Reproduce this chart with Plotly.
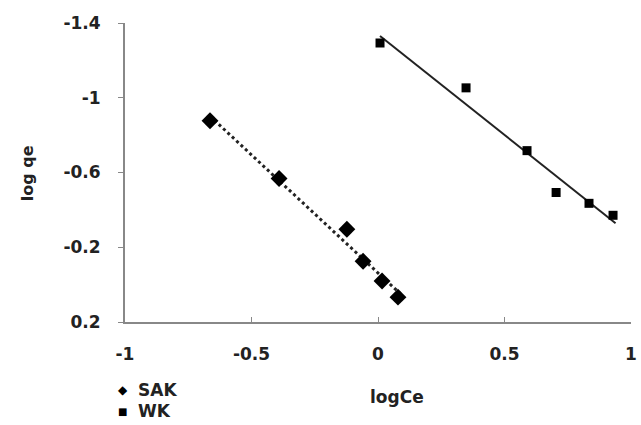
import numpy as np
import plotly.graph_objects as go

# Data
sak_x = [-0.664, -0.391, -0.123, -0.059, 0.016, 0.079]
sak_y = [-0.877, -0.568, -0.296, -0.125, -0.019, 0.067]
wk_x = [0.008, 0.348, 0.589, 0.704, 0.834, 0.929]
wk_y = [-1.293, -1.053, -0.717, -0.493, -0.435, -0.371]

x_ticks = [-1, -0.5, 0, 0.5, 1]
x_tick_labels = ["-1", "-0.5", "0", "0.5", "1"]
y_ticks = [-1.4, -1, -0.6, -0.2, 0.2]
y_tick_labels = ["-1.4", "-1", "-0.6", "-0.2", "0.2"]

series_names = ["SAK", "WK"]
legend_glyphs = ["\u25C6", "\u25A0"]

FONT = "DejaVu Sans, Arial, sans-serif"
TXT = "#222222"

def fit(xs, ys, x0, x1):
    m, b = np.polyfit(xs, ys, 1)
    return [x0, x1], [m * x0 + b, m * x1 + b]

fig = go.Figure()

lx, ly = fit(sak_x, sak_y, min(sak_x), max(sak_x) + 0.01)
fig.add_trace(go.Scatter(x=lx, y=ly, mode="lines", showlegend=False,
                         line=dict(color="#222222", width=3, dash="dot"), hoverinfo="skip"))
lx, ly = fit(wk_x, wk_y, min(wk_x), max(wk_x) + 0.01)
fig.add_trace(go.Scatter(x=lx, y=ly, mode="lines", showlegend=False,
                         line=dict(color="#222222", width=2), hoverinfo="skip"))

fig.add_trace(go.Scatter(x=sak_x, y=sak_y, mode="markers", name=series_names[0],
                         showlegend=False,
                         marker=dict(symbol="diamond", size=13, color="black")))
fig.add_trace(go.Scatter(x=wk_x, y=wk_y, mode="markers", name=series_names[1],
                         showlegend=False,
                         marker=dict(symbol="square", size=9, color="black")))

tickfont = dict(family=FONT, size=17, color=TXT, weight="bold")
annotations = [
    dict(text="logCe", xref="paper", yref="paper", x=0.538, y=-0.251,
         xanchor="center", yanchor="middle", showarrow=False,
         font=dict(family=FONT, size=17, color=TXT, weight="bold")),
    dict(text="log qe", xref="paper", yref="paper", x=-0.192, y=0.497,
         xanchor="center", yanchor="middle", showarrow=False, textangle=-90,
         font=dict(family=FONT, size=16, color=TXT, weight="bold")),
]
# legend rows (below the plot, as in the reference)
leg_y = [-0.227, -0.298]
glyph_sizes = [12, 10]
for name, glyph, gy, gs in zip(series_names, legend_glyphs, leg_y, glyph_sizes):
    annotations.append(dict(text=glyph, xref="paper", yref="paper", x=-0.004, y=gy,
                            xanchor="center", yanchor="middle", showarrow=False,
                            font=dict(family=FONT, size=gs, color="black")))
    annotations.append(dict(text=name, xref="paper", yref="paper", x=0.022, y=gy,
                            xanchor="left", yanchor="middle", showarrow=False,
                            font=dict(family=FONT, size=17, color=TXT, weight="bold")))

fig.update_layout(
    width=641, height=425,
    margin=dict(l=125, r=10, t=23, b=103),
    paper_bgcolor="white", plot_bgcolor="white",
    font=dict(family=FONT, size=17, color=TXT),
    showlegend=False,
    xaxis=dict(range=[-1, 1], tickvals=x_ticks, ticktext=x_tick_labels,
               showgrid=False, zeroline=False, showline=True, automargin=False,
               linecolor="#888888", linewidth=2, ticks="inside", ticklen=5,
               tickcolor="#888888", tickwidth=1, ticklabelstandoff=16,
               tickfont=tickfont),
    yaxis=dict(range=[0.2, -1.4], tickvals=y_ticks, ticktext=y_tick_labels,
               showgrid=False, zeroline=False, showline=True, automargin=False,
               linecolor="#888888", linewidth=2, ticks="outside", ticklen=5,
               tickcolor="#888888", tickwidth=1, ticklabelstandoff=14,
               tickfont=tickfont),
    annotations=annotations,
)

fig.write_html("out.html")
